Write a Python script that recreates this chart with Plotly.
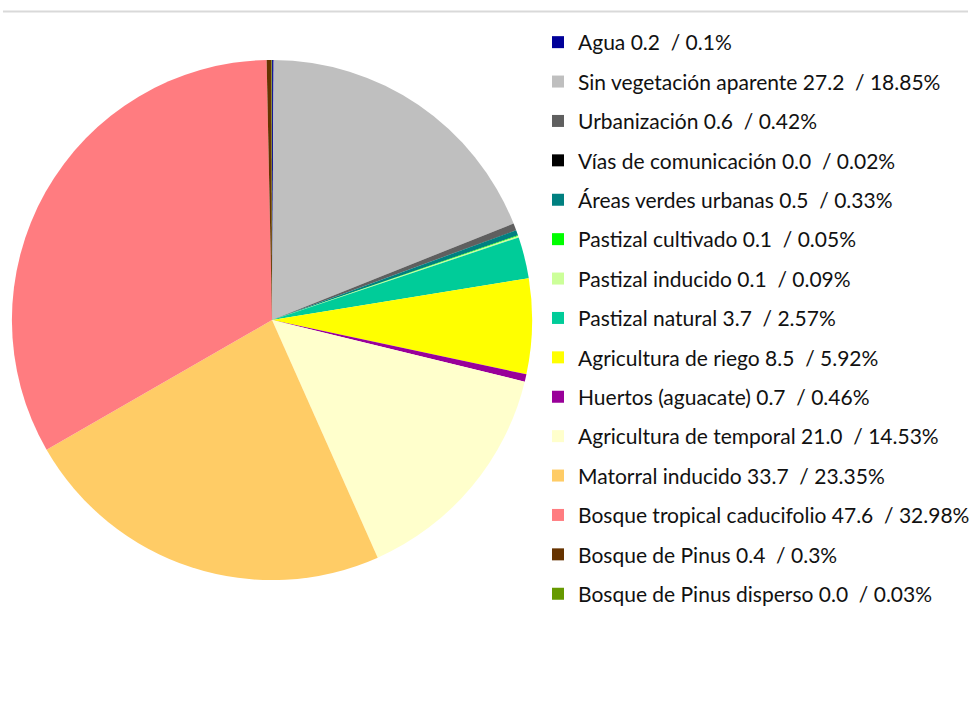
import plotly.graph_objects as go

categories = [
    "Agua", "Sin vegetación aparente", "Urbanización", "Vías de comunicación",
    "Áreas verdes urbanas", "Pastizal cultivado", "Pastizal inducido",
    "Pastizal natural", "Agricultura de riego", "Huertos (aguacate)",
    "Agricultura de temporal", "Matorral inducido", "Bosque tropical caducifolio",
    "Bosque de Pinus", "Bosque de Pinus disperso",
]
areas = [0.2, 27.2, 0.6, 0.0, 0.5, 0.1, 0.1, 3.7, 8.5, 0.7, 21.0, 33.7, 47.6, 0.4, 0.0]
percents = [0.1, 18.85, 0.42, 0.02, 0.33, 0.05, 0.09, 2.57, 5.92, 0.46, 14.53, 23.35, 32.98, 0.3, 0.03]
colors = [
    "#000099", "#BFBFBF", "#5F5F5F", "#000000", "#008080", "#00FF00", "#CCFF99",
    "#00CC99", "#FFFF00", "#990099", "#FFFFCC", "#FFCC66", "#FF7C80", "#663300", "#669900",
]

labels = [f"{c} {a:.1f}\u00a0 / {p:g}%" for c, a, p in zip(categories, areas, percents)]

W, H = 975, 727
cx, cy, r = 274, 320, 262

fig = go.Figure()
fig.add_trace(go.Pie(
    labels=labels, values=percents, sort=False, direction="clockwise", rotation=0,
    marker=dict(colors=colors, line=dict(width=0)), textinfo="none",
    showlegend=False,
    domain=dict(x=[(cx - r) / W, (cx + r) / W], y=[(H - cy - r) / H, (H - cy + r) / H]),
))
for i, (lab, col) in enumerate(zip(labels, colors)):
    fig.add_trace(go.Scatter(
        x=[None], y=[None], mode="markers", name=lab, legendgroup=str(i),
        marker=dict(symbol="square", size=12, color=col),
    ))

fig.update_layout(
    width=W, height=H, margin=dict(l=0, r=0, t=0, b=0),
    paper_bgcolor="white", plot_bgcolor="white",
    xaxis=dict(visible=False), yaxis=dict(visible=False),
    font=dict(family="Lato", size=21, color="#111111"),
    legend=dict(x=542 / W, xanchor="left", y=(H - 22) / H, yanchor="top",
                tracegroupgap=9.1, font=dict(size=21), bgcolor="rgba(0,0,0,0)"),
    shapes=[dict(type="line", xref="paper", yref="paper", x0=3 / W, x1=1,
                 y0=(H - 11.5) / H, y1=(H - 11.5) / H, line=dict(color="#D9D9D9", width=2))],
)
fig.write_html("out.html", config={"displayModeBar": False},
               post_script="document.body.style.margin='0';")
